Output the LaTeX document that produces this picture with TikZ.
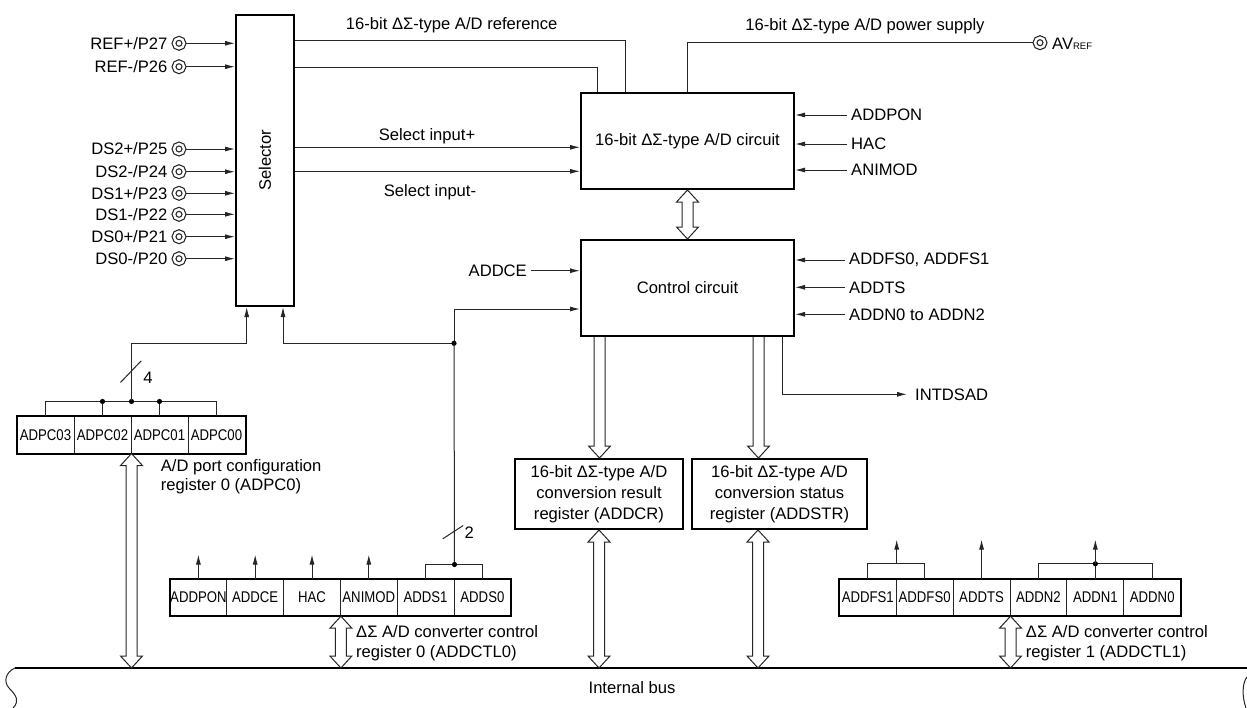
\documentclass[tikz,border=0pt]{standalone}
\usepackage{fontspec}
\setmainfont{Liberation Sans}
\newfontfamily\condfont[FakeStretch=0.85]{Liberation Sans}
\usetikzlibrary{arrows.meta,calc}
\newcommand\hdbl[2]{\draw[ln, fill=white] let \p1=#1, \p2=#2 in
  ({\x1},{\y1}) -- ({\x1+11pt},{\y1-12pt}) -- ({\x1+5.5pt},{\y1-12pt}) -- ({\x1+5.5pt},{\y2+12pt}) -- ({\x1+11pt},{\y2+12pt}) -- ({\x1},{\y2}) -- ({\x1-11pt},{\y2+12pt}) -- ({\x1-5.5pt},{\y2+12pt}) -- ({\x1-5.5pt},{\y1-12pt}) -- ({\x1-11pt},{\y1-12pt}) -- cycle;}
\newcommand\hdown[2]{\draw[ln, fill=white] let \p1=#1, \p2=#2 in
  ({\x1-5.5pt},{\y1}) -- ({\x1-5.5pt},{\y2+12pt}) -- ({\x1-11pt},{\y2+12pt}) -- ({\x1},{\y2}) -- ({\x1+11pt},{\y2+12pt}) -- ({\x1+5.5pt},{\y2+12pt}) -- ({\x1+5.5pt},{\y1});}
\begin{document}
\begin{tikzpicture}[x=1pt,y=-1pt,
  ln/.style={line width=1pt, draw=black!85},
  arr/.style={ln, -{Latex[length=10pt,width=5pt]}},
  box/.style={draw=black, line width=2pt, inner sep=0pt, align=center, font=\fontsize{16.6}{21}\selectfont},
  lbl/.style={inner xsep=4pt, inner ysep=1pt, font=\fontsize{16.6}{19}\selectfont},
  txt/.style={inner sep=0pt, align=left, font=\fontsize{16.6}{20}\selectfont},
  cell/.style={draw=black!85, line width=1pt, inner sep=0pt, minimum height=36.7pt, font=\condfont\fontsize{15.5}{17}\selectfont},
  term/.style={circle, draw=black!85, double, double distance=2.4pt, line width=1.2pt, minimum size=10pt, inner sep=0pt, outer sep=2.4pt},
  reg/.style={draw=black, line width=2pt},
]
\useasboundingbox (0,0) rectangle (1247,707);

% selector
\node[box, minimum width=58pt, minimum height=291pt] (sel) at (265,160.5) {};
\node[font=\fontsize{16.6}{19}\selectfont, rotate=90] (selt) at (sel.center) {Selector};

% pins
\node[term] (t27) at (179,43.3) {};  \node[lbl, anchor=east] (l27) at (t27.west) {REF+/P27};
\node[term] (t26) at (179,66.7) {};  \node[lbl, anchor=east] (l26) at (t26.west) {REF-/P26};
\node[term] (t25) at (179,149) {};   \node[lbl, anchor=east] (l25) at (t25.west) {DS2+/P25};
\node[term] (t24) at (179,171.7) {}; \node[lbl, anchor=east] (l24) at (t24.west) {DS2-/P24};
\node[term] (t23) at (179,193.3) {}; \node[lbl, anchor=east] (l23) at (t23.west) {DS1+/P23};
\node[term] (t22) at (179,214.3) {}; \node[lbl, anchor=east] (l22) at (t22.west) {DS1-/P22};
\node[term] (t21) at (179,236.7) {}; \node[lbl, anchor=east] (l21) at (t21.west) {DS0+/P21};
\node[term] (t20) at (179,258.7) {}; \node[lbl, anchor=east] (l20) at (t20.west) {DS0-/P20};
\foreach \n in {27,26,25,24,23,22,21,20} \draw[arr] (t\n) -- (sel.west |- t\n);

% A/D circuit and control circuit
\node[box, minimum width=213pt, minimum height=96pt] (adc) at (687.5,141) {16-bit ΔΣ-type A/D circuit};
\node[box, minimum width=213pt, minimum height=96pt] (ctl) at (687.5,288) {Control circuit};

% reference and select lines
\node[lbl] (lref) at (451.7,25) {16-bit ΔΣ-type A/D reference};
\draw[ln] ($(sel.north east)+(0,26.3)$) -| ($(adc.north west)+(45,0)$);
\draw[ln] ($(sel.north east)+(0,53.7)$) -| ($(adc.north west)+(17,0)$);
\draw[arr] ($(sel.north east)+(0,133.3)$) -- ($(adc.north west)+(0,55.3)$);
\draw[arr] ($(sel.north east)+(0,157.3)$) -- ($(adc.north west)+(0,79.3)$);
\node[lbl] (lsp) at (427,136.7) {Select input+};
\node[lbl] (lsm) at (430,192.7) {Select input-};

% power supply
\node[term] (tav) at (1040,42.7) {};
\node[lbl, anchor=west, inner xsep=0pt] (lav) at (1052,43.5) {AV{\fontsize{9.5}{9}\selectfont REF}};
\node[lbl] (lpow) at (865,26) {16-bit ΔΣ-type A/D power supply};
\draw[ln] (adc.north) |- (tav);

% A/D inputs
\node[lbl, anchor=west] (ipon) at (847,115) {ADDPON};
\node[lbl, anchor=west] (ihac) at (847,144) {HAC};
\node[lbl, anchor=west] (iani) at (847,170) {ANIMOD};
\foreach \n in {ipon,ihac,iani} \draw[arr] (\n) -- (adc.east |- \n);

\hdbl{(adc.south)}{(ctl.north)}

% control inputs
\node[lbl, anchor=west] (ifs) at (845,260) {ADDFS0, ADDFS1};
\node[lbl, anchor=west] (its) at (845,287.3) {ADDTS};
\node[lbl, anchor=west] (idn) at (845,314.3) {ADDN0 to ADDN2};
\foreach \n in {ifs,its,idn} \draw[arr] (\n) -- (ctl.east |- \n);
\node[lbl, anchor=east] (ice) at (531,270.7) {ADDCE};
\draw[arr] (ice) -- (ctl.west |- ice);

% junction
\coordinate (jn) at (454,343.3);
\draw[arr] (jn) |- ($(ctl.south west)+(0,-28)$);
\draw[arr] (jn) -| ($(sel.south)+(18,0)$);
\fill (jn) circle (2.6);

% INTDSAD
\node[lbl, anchor=west, inner xsep=8pt] (iint) at (907,394.3) {INTDSAD};
\draw[arr] ($(ctl.south east)+(-13,0)$) |- (iint);

% result / status registers
\node[box, minimum width=168pt, minimum height=70pt] (rescr) at (599,494) {16-bit ΔΣ-type A/D\\conversion result\\register (ADDCR)};
\node[box, minimum width=175pt, minimum height=70pt] (stsr) at (779.5,494) {16-bit ΔΣ-type A/D\\conversion status\\register (ADDSTR)};
\hdown{($(ctl.south west)+(19.5,0)$)}{(rescr.north)}
\hdown{($(ctl.south west)+(178.5,0)$)}{(stsr.north)}

% bus
\coordinate (busl) at (15,668);
\coordinate (busr) at (1247,668);
\coordinate (bus) at (0,668);
\draw[line width=2pt] (busl) -- (busr);
\draw[ln] (busl) .. controls (6,672) and (3,681) .. (9,688) .. controls (16,695) and (20,701) .. (13,708);
\draw[ln] (1247,677) .. controls (1242,683) and (1242,697) .. (1246,708);
\node[lbl] (lbus) at (632,688) {Internal bus};

\hdbl{(rescr.south)}{(bus)}
\hdbl{($(stsr.south west)+(67,0)$)}{(bus)}

% ADPC0 register
\node[cell, minimum width=57pt] (a3) at (45.5,434.7) {ADPC03};
\node[cell, minimum width=57pt] (a2) at (102.5,434.7) {ADPC02};
\node[cell, minimum width=57pt] (a1) at (159.5,434.7) {ADPC01};
\node[cell, minimum width=57pt] (a0) at (216.5,434.7) {ADPC00};
\draw[reg] (a3.north west) rectangle (a0.south east);
\coordinate (abr) at ($(a2.north east)+(0,-14.4)$);
\draw[ln] (a3.north) |- (abr) -| (a0.north);
\draw[ln] (a2.north) -- (a2.north |- abr);
\draw[ln] (a1.north) -- (a1.north |- abr);
\fill (a2.north |- abr) circle (2.6);
\fill (a1.north |- abr) circle (2.6);
\fill (abr) circle (2.6);
\draw[arr] (abr) -- (abr |- jn) -| ($(sel.south)+(-18.3,0)$);
\draw[ln] ($(abr)+(-11,-19)$) -- ($(abr)+(9.7,-40.6)$);
\node[lbl, anchor=west, inner xsep=0pt] (n4) at ($(abr)+(11.7,-23.3)$) {4};
\node[txt, anchor=west] (lapc) at (160.7,476.7) {A/D port configuration\\register 0 (ADPC0)};
\hdbl{(a2.south east)}{(bus)}

% ADDCTL0 register
\node[cell, minimum width=56.8pt] (c0pon) at (198.4,597.35) {ADDPON};
\node[cell, minimum width=56.8pt] (c0ce) at (255.2,597.35) {ADDCE};
\node[cell, minimum width=56.8pt] (c0hac) at (312,597.35) {HAC};
\node[cell, minimum width=56.8pt] (c0ani) at (368.8,597.35) {ANIMOD};
\node[cell, minimum width=56.8pt] (c0s1) at (425.6,597.35) {ADDS1};
\node[cell, minimum width=56.8pt] (c0s0) at (482.4,597.35) {ADDS0};
\draw[reg] (c0pon.north west) rectangle (c0s0.south east);
\foreach \c in {c0pon,c0ce,c0hac,c0ani} \draw[arr] (\c.north) -- ++(0,-24);
\coordinate (j2) at ($(c0s1.north east)+(0,-14)$);
\draw[ln] (c0s1.north) |- (j2) -| (c0s0.north);
\draw[ln] (j2) -- (jn);
\fill (j2) circle (2.6);
\draw[ln] ($(j2)+(-11.7,-25.7)$) -- ($(j2)+(8.7,-39)$);
\node[lbl, anchor=west, inner xsep=0pt] (n2) at ($(j2)+(10,-32)$) {2};
\node[txt, anchor=west] (lctl0) at (356,643.3) {ΔΣ A/D converter control\\register 0 (ADDCTL0)};
\hdbl{(c0hac.south east)}{(bus)}

% ADDCTL1 register
\node[cell, minimum width=56.9pt] (c1fs1) at (867.75,597.35) {ADDFS1};
\node[cell, minimum width=56.9pt] (c1fs0) at (924.65,597.35) {ADDFS0};
\node[cell, minimum width=56.9pt] (c1ts) at (981.55,597.35) {ADDTS};
\node[cell, minimum width=56.9pt] (c1n2) at (1038.45,597.35) {ADDN2};
\node[cell, minimum width=56.9pt] (c1n1) at (1095.35,597.35) {ADDN1};
\node[cell, minimum width=56.9pt] (c1n0) at (1152.25,597.35) {ADDN0};
\draw[reg] (c1fs1.north west) rectangle (c1n0.south east);
\coordinate (k1) at ($(c1fs1.north east)+(0,-14.7)$);
\draw[ln] (c1fs1.north) |- (k1) -| (c1fs0.north);
\draw[arr] (k1) -- ++(0,-24.3);
\draw[arr] (c1ts.north) -- ++(0,-39);
\coordinate (k2) at (c1n1.north |- k1);
\draw[ln] (c1n2.north) |- (k2) -| (c1n0.north);
\draw[ln] (c1n1.north) -- (k2);
\fill (k2) circle (2.6);
\draw[arr] (k2) -- ++(0,-24.3);
\node[txt, anchor=west] (lctl1) at (1025.7,643) {ΔΣ A/D converter control\\register 1 (ADDCTL1)};
\hdbl{(c1ts.south east)}{(bus)}
\end{tikzpicture}
\end{document}
